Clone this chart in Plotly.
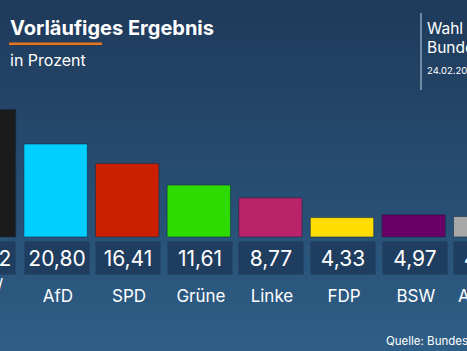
import plotly.graph_objects as go

parties = ["CDU/CSU", "AfD", "SPD", "Grüne", "Linke", "FDP", "BSW", "Andere"]
party_labels = ["CDU/<br>CSU", "AfD", "SPD", "Grüne", "Linke", "FDP", "BSW", "Andere"]
values = [28.52, 20.80, 16.41, 11.61, 8.77, 4.33, 4.97, 4.59]
value_labels = ["28,52", "20,80", "16,41", "11,61", "8,77", "4,33", "4,97", "4,59"]
colors = ["#1b1b1b", "#00cfff", "#cc1f00", "#2ddb00", "#b8236a", "#ffdd00", "#6a0066", "#a8a8a8"]

W, H = 467, 351
FONT = "Inter"
BAR_W = 0.885
HALF = 0.447  # half of a label box, in category units

idx = list(range(len(parties)))

fig = go.Figure()
fig.add_trace(go.Bar(
    x=idx, y=values, width=BAR_W, customdata=parties,
    marker=dict(color=colors, line=dict(color="rgba(20,40,70,0.55)", width=1)),
    hoverinfo="skip",
))

shapes = []
top = (31, 58, 91)
bot = (46, 94, 134)
N = 70
for i in range(N):
    t = i / (N - 1)
    c = tuple(round(top[k] + (bot[k] - top[k]) * t) for k in range(3))
    shapes.append(dict(type="rect", xref="paper", yref="paper",
                       x0=0, x1=1, y0=1 - (i + 1) / N - 0.002, y1=1 - i / N,
                       fillcolor="rgb(%d,%d,%d)" % c, line=dict(width=0), layer="below"))
shapes.append(dict(type="line", xref="paper", yref="paper",
                   x0=9 / W, x1=102 / W, y0=1 - 43.7 / H, y1=1 - 43.7 / H,
                   line=dict(color="#e8731a", width=2.5)))
shapes.append(dict(type="line", xref="paper", yref="paper",
                   x0=421 / W, x1=421 / W, y0=1 - 13 / H, y1=1 - 90 / H,
                   line=dict(color="#8ea3ba", width=1.5)))

annotations = []
last = len(parties) - 1
for i, lab, vl in zip(idx, party_labels, value_labels):
    # anchor on the box edge that stays inside the visible range
    if i == 0:
        ax_x, xanc = i + HALF, "right"
    else:
        ax_x, xanc = i - HALF, "left"
    annotations.append(dict(x=ax_x, y=0, xref="x", yref="y", text=vl, showarrow=False,
                            xanchor=xanc, yanchor="top", yshift=-4, width=64, height=32,
                            borderpad=0, bgcolor="#1f3d5f", align="center", valign="middle",
                            font=dict(family=FONT, size=21, color="white")))
    annotations.append(dict(x=ax_x, y=0, xref="x", yref="y", text=lab, showarrow=False,
                            xanchor=xanc, yanchor="middle", yshift=-59, width=64, align="center",
                            font=dict(family=FONT, size=17, color="white")))

def pa(text, x, y, size, bold=False, color="white"):
    return dict(text=("<b>%s</b>" % text) if bold else text, xref="paper", yref="paper",
                x=x / W, y=1 - y / H, xanchor="left", yanchor="middle", showarrow=False,
                font=dict(family=FONT, size=size, color=color))

annotations += [
    pa("Vorläufiges Ergebnis", 8, 28, 20, bold=True),
    pa("in Prozent", 8, 59.5, 16),
    pa("Wahl zum", 425, 28.5, 15.5),
    pa("Bundestag", 425, 48, 15.5),
    pa("24.02.2025", 425, 70, 9.5),
    pa("Quelle: Bundeswahlleiterin", 384, 340.5, 11.5),
]

fig.update_layout(
    width=W, height=H, margin=dict(l=0, r=0, t=0, b=0),
    paper_bgcolor="rgb(38,76,112)", plot_bgcolor="rgba(0,0,0,0)",
    showlegend=False, shapes=shapes, annotations=annotations,
    xaxis=dict(range=[0.2235, 6.7457], visible=False, fixedrange=True),
    yaxis=dict(range=[-25.5, 53.0], visible=False, fixedrange=True),
)

fig.write_html("out.html", config={"displayModeBar": False})
